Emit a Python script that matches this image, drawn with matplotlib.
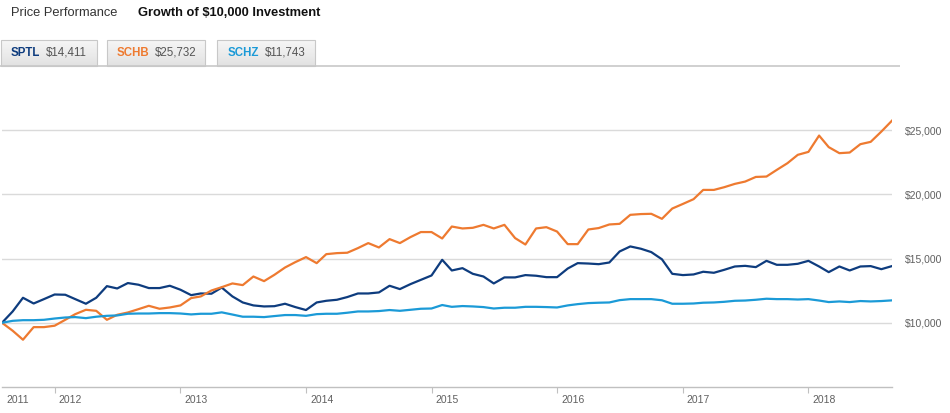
import numpy as np
import pandas as pd
import matplotlib
matplotlib.use('Agg')
import matplotlib.pyplot as plt
from matplotlib.transforms import ScaledTranslation
from matplotlib.patches import Rectangle

# ---------------- data ----------------
start_month = '2011-08-01'
n_months = 86

sptl = [10000, 10880, 11945, 11500, 11840, 12200, 12180, 11840, 11480, 11945,
        12850, 12670, 13090, 12960, 12700, 12700, 12880, 12570, 12150, 12280,
        12260, 12740, 12050, 11580, 11350, 11270, 11290, 11480, 11220, 10990,
        11580, 11710, 11790, 12000, 12280, 12280, 12360, 12880, 12620, 13010,
        13340, 13680, 14900, 14070, 14250, 13810, 13600, 13060, 13530, 13530,
        13710, 13660, 13550, 13550, 14220, 14640, 14610, 14560, 14690, 15550,
        15940, 15760, 15500, 14940, 13810, 13710, 13760, 13970, 13890, 14120,
        14380, 14430, 14330, 14820, 14510, 14510, 14590, 14820, 14380, 13940,
        14380, 14070, 14380, 14410, 14170, 14411]

schb = [10000, 9380, 8680, 9660, 9660, 9770, 10230, 10670, 11010, 10930,
        10230, 10620, 10800, 11060, 11320, 11090, 11190, 11350, 11920, 12050,
        12510, 12770, 13060, 12930, 13600, 13240, 13730, 14300, 14720, 15110,
        14640, 15340, 15420, 15450, 15810, 16200, 15860, 16510, 16200, 16670,
        17060, 17060, 16560, 17490, 17340, 17390, 17620, 17340, 17620, 16590,
        16090, 17340, 17440, 17100, 16120, 16120, 17260, 17370, 17650, 17700,
        18400, 18460, 18480, 18090, 18890, 19250, 19620, 20340, 20340, 20550,
        20810, 20990, 21350, 21380, 21900, 22420, 23070, 23300, 24570, 23670,
        23200, 23250, 23900, 24080, 24880, 25732]

schz = [10000, 10150, 10200, 10200, 10230, 10330, 10410, 10440, 10360, 10470,
        10540, 10570, 10700, 10720, 10720, 10750, 10750, 10720, 10650, 10700,
        10700, 10810, 10640, 10470, 10470, 10440, 10520, 10600, 10600, 10540,
        10670, 10700, 10700, 10780, 10880, 10880, 10910, 10990, 10930, 11010,
        11090, 11110, 11380, 11240, 11300, 11270, 11220, 11110, 11170, 11170,
        11240, 11240, 11220, 11190, 11350, 11450, 11530, 11560, 11580, 11760,
        11840, 11840, 11840, 11750, 11480, 11480, 11500, 11560, 11580, 11630,
        11710, 11730, 11790, 11870, 11840, 11840, 11810, 11840, 11730, 11610,
        11660, 11610, 11690, 11660, 11690, 11743]

tickers = ['SPTL', 'SCHB', 'SCHZ']
final_labels = ['$14,411', '$25,732', '$11,743']
colors = ['#0e3c7e', '#ee7a30', '#1b9ad7']

y_ticks = [10000, 15000, 20000, 25000]
y_tick_labels = ['$10,000', '$15,000', '$20,000', '$25,000']
year_labels = ['2011', '2012', '2013', '2014', '2015', '2016', '2017', '2018']

dates = pd.date_range(start_month, periods=n_months, freq='MS')

# ---------------- figure ----------------
plt.rcParams['font.family'] = ['Liberation Sans', 'DejaVu Sans']
W, H = 950, 413
fig = plt.figure(figsize=(W / 100, H / 100), dpi=100)

ax = fig.add_axes([2 / W, (H - 387) / H, 890 / W, (387 - 65.8) / H])
for vals, c in zip([sptl, schb, schz], colors):
    ax.plot(dates, vals, color=c, lw=1.6, solid_joinstyle='round', zorder=3)

ax.set_xlim(dates[0], dates[-1])
ax.set_ylim(5000, 30000)

ax.yaxis.tick_right()
ax.set_yticks(y_ticks, y_tick_labels)
ax.tick_params(axis='y', length=0, pad=9.5, labelsize=7.5, labelcolor='#606060')
ax.grid(axis='y', color='#dadada', lw=1)
ax.set_axisbelow(True)

for s in ['top', 'left', 'right']:
    ax.spines[s].set_visible(False)
ax.spines['bottom'].set_color('#c0c0c0')
ax.spines['bottom'].set_linewidth(1)

xt = [dates[0]] + [pd.Timestamp(f'{y}-01-01') for y in year_labels[1:]]
ax.set_xticks(xt, year_labels)
ax.tick_params(axis='x', length=4.5, width=0.8, color='#c0c0c0', pad=1.5,
               labelsize=7.5, labelcolor='#606060')
off = ScaledTranslation(4 / 100, 0, fig.dpi_scale_trans)
for lab in ax.get_xticklabels():
    lab.set_ha('left')
    lab.set_transform(lab.get_transform() + off)
ax.xaxis.get_major_ticks()[0].tick1line.set_visible(False)

# ---------------- header overlay ----------------
ov = fig.add_axes([0, 0, 1, 1])
ov.set_axis_off()
ov.patch.set_visible(False)

ov.text(11, 13, 'Price Performance', fontsize=9.3, color='#333333', va='center')
ov.text(138, 13, 'Growth of $10,000 Investment', fontsize=9.3, color='#111111',
        va='center', fontweight='bold')

ov.plot([0, 900], [66, 66], color='#c8c8c8', lw=1.2, solid_capstyle='butt')

boxes = [(1, 97), (107, 205), (217, 315)]
name_x = [11, 117, 228]
val_x = [46, 154.5, 264.5]
grad = np.linspace(0, 1, 50).reshape(-1, 1)
cmap = matplotlib.colors.LinearSegmentedColormap.from_list('g', ['#f6f6f6', '#e2e2e2'])
for (x0, x1), nx, vx, t, v, c in zip(boxes, name_x, val_x, tickers, final_labels, colors):
    ov.imshow(grad, extent=(x0, x1, 66, 40), cmap=cmap, aspect='auto', zorder=1,
              interpolation='bilinear')
    ov.add_patch(Rectangle((x0, 40), x1 - x0, 26, fill=False, ec='#c8c8c8', lw=0.8, zorder=2))
    ov.text(nx, 52.5, t, fontsize=8.3, color=c, fontweight='bold', va='center', zorder=3)
    ov.text(vx, 52.5, v, fontsize=8.3, color='#555555', va='center', zorder=3)

ov.set_xlim(0, W)
ov.set_ylim(H, 0)

fig.savefig('out.png', dpi=100)
